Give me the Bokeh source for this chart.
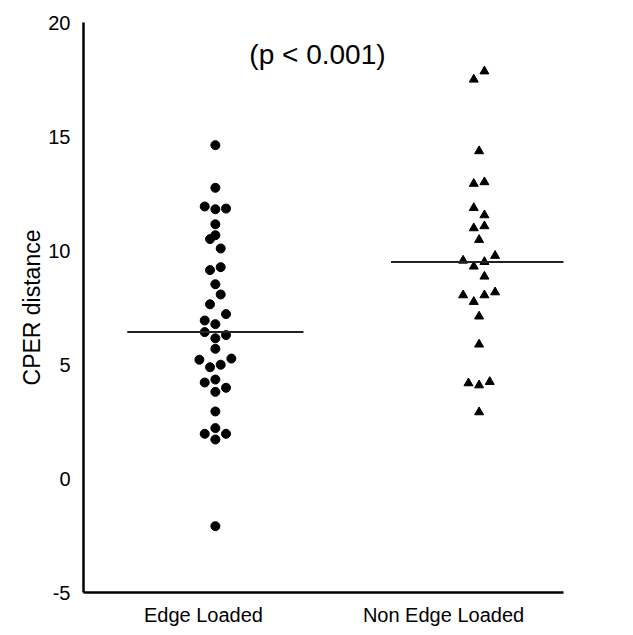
import numpy as np
from bokeh.plotting import figure
from bokeh.models import FixedTicker, Label, ColumnDataSource
from bokeh.embed import file_html
from bokeh.resources import INLINE

# ---- data ----
categories = ["Edge Loaded", "Non Edge Loaded"]
group_pos = [1, 2]

edge_values = [14.62, 12.75, 11.93, 11.81, 11.84, 11.15, 10.67, 10.50, 10.09, 9.14,
               9.27, 8.52, 8.07, 7.64, 7.21, 6.93, 6.77, 6.42, 6.15, 6.29,
               5.69, 5.21, 4.88, 4.99, 5.26, 4.21, 4.34, 3.80, 3.98, 2.94,
               1.96, 2.21, 1.96, 1.71, -2.09]
edge_slot = [0, 0, -2, 0, 2, 0, 0, -1, 1, -1,
             1, 0, 1, -1, 2, -2, 0, -2, 0, 2,
             0, -3, -1, 1, 3, -2, 0, 0, 2, 0,
             -2, 0, 2, 0, 0]

nonedge_values = [17.86, 17.50, 14.36, 12.93, 13.00, 11.87, 11.55, 10.98, 11.07, 10.47,
                  9.56, 9.30, 9.50, 9.77, 8.86, 8.04, 7.75, 8.04, 8.17, 7.11,
                  5.88, 4.18, 4.09, 4.24, 2.91]
nonedge_slot = [1, -1, 0, -1, 1, -1, 1, -1, 1, 0,
                -3, -1, 1, 3, 1, -3, -1, 1, 3, 0,
                0, -2, 0, 2, 0]

y_ticks = [-5, 0, 5, 10, 15, 20]
y_tick_labels = ["-5", "0", "5", "10", "15", "20"]
p_text = "(p < 0.001)"

# ---- styling constants ----
SLOT_W = 0.0202
HALF_LINE = 0.334
FONT = "Liberation Sans"

p = figure(width=612, height=630, x_range=(0.5, 2.32), y_range=(-5, 20),
           output_backend="svg", toolbar_location=None,
           min_border_left=83, min_border_top=22, min_border_right=49, min_border_bottom=38)
p.outline_line_color = None
p.xgrid.visible = False
p.ygrid.visible = False
p.background_fill_color = "white"

edge_src = ColumnDataSource(dict(
    x=[group_pos[0] + s * SLOT_W for s in edge_slot], y=edge_values))
non_src = ColumnDataSource(dict(
    x=[group_pos[1] + s * SLOT_W for s in nonedge_slot], y=nonedge_values))

p.scatter("x", "y", source=edge_src, marker="circle", size=9,
          fill_color="black", line_color="black")
p.scatter("x", "y", source=non_src, marker="triangle", size=9,
          fill_color="black", line_color="black")

medians = [float(np.median(edge_values)), float(np.median(nonedge_values))]
p.segment(x0=[g - HALF_LINE for g in group_pos], x1=[g + HALF_LINE for g in group_pos],
          y0=medians, y1=medians, line_color="#222222", line_width=2)

# axes
p.yaxis.ticker = FixedTicker(ticks=y_ticks)
p.yaxis.major_label_overrides = {t: s for t, s in zip(y_ticks, y_tick_labels)}
p.yaxis.axis_label = "CPER distance"
p.yaxis.axis_label_text_font = FONT
p.yaxis.axis_label_text_font_size = "23px"
p.yaxis.axis_label_text_font_style = "normal"
p.yaxis.axis_label_standoff = 0
p.yaxis.major_label_text_font = FONT
p.yaxis.major_label_text_font_size = "20px"
p.yaxis.major_label_standoff = 13

label_ticks = [0.955, 1.865]
p.xaxis.ticker = FixedTicker(ticks=label_ticks)
p.xaxis.major_label_overrides = {t: c for t, c in zip(label_ticks, categories)}
p.xaxis.major_label_text_font = FONT
p.xaxis.major_label_text_font_size = "20px"
p.xaxis.major_label_standoff = 11

for ax in (p.xaxis, p.yaxis):
    ax.axis_line_color = "black"
    ax.axis_line_width = 2.5
    ax.major_tick_line_color = None
    ax.minor_tick_line_color = None
    ax.major_tick_out = 0
    ax.major_tick_in = 0
    ax.major_label_text_color = "black"
    ax.axis_label_text_color = "black"

p.add_layout(Label(x=1.387, y=18.6, text=p_text, text_align="center",
                   text_baseline="middle", text_font=FONT,
                   text_font_size="28px", text_color="black"))

open("out.html", "w").write(file_html(p, INLINE))
